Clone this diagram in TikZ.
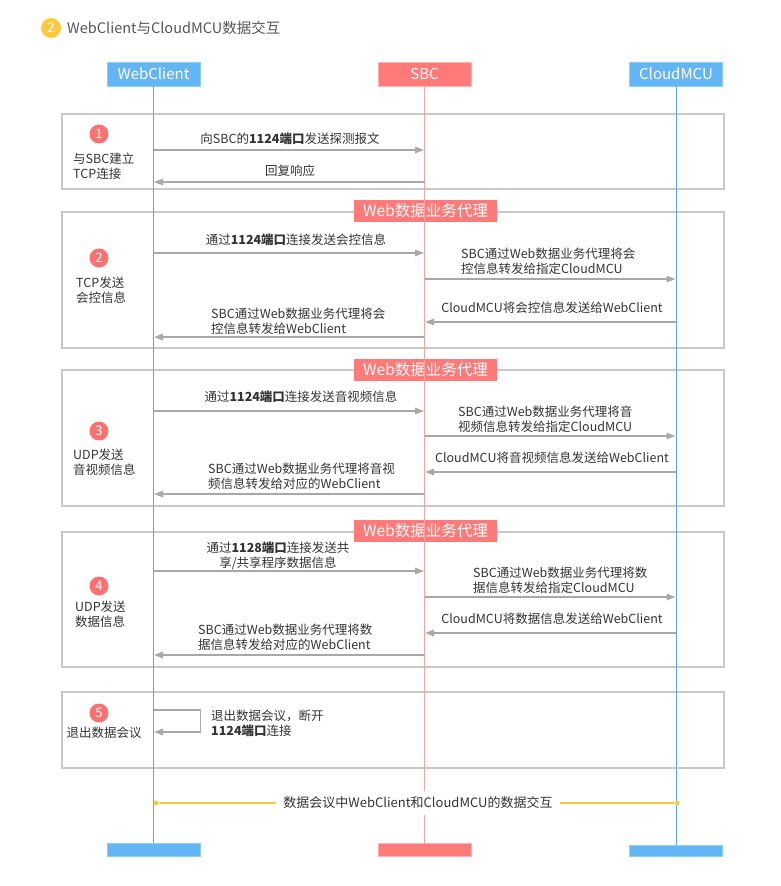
\documentclass[tikz,border=0pt]{standalone}
\usepackage{fontspec}
\setmainfont{Noto Sans CJK SC}
\usetikzlibrary{arrows.meta,positioning}

\definecolor{headblue}{HTML}{64B5F6}
\definecolor{headblueline}{HTML}{8AD2E6}
\definecolor{headred}{HTML}{FF7A78}
\definecolor{headredline}{HTML}{FFB4B2}
\definecolor{lifeblue}{HTML}{5AA9EE}
\definecolor{lifered}{HTML}{F5A3A3}
\definecolor{framegray}{HTML}{C9C9C9}
\definecolor{arrowgray}{HTML}{A8A8A8}
\definecolor{txtgray}{HTML}{333333}
\definecolor{titlegray}{HTML}{555555}
\definecolor{numred}{HTML}{FF7070}
\definecolor{yellowline}{HTML}{FFC83D}

\begin{document}
\begin{tikzpicture}[x=1pt, y=-1pt, >={Triangle[length=9pt,width=6.5pt]},
                    shorten >=0.5pt, text=txtgray,
                    font=\fontsize{12.5}{15}\selectfont]
  \tikzstyle{head}=[minimum width=93pt, minimum height=24pt, inner sep=0pt,
                    text=white, font=\fontsize{15}{18}\selectfont, line width=0.8pt]
  \tikzstyle{headblue}=[head, fill=headblue, draw=headblueline]
  \tikzstyle{headred}=[head, fill=headred, draw=headredline]
  \tikzstyle{foot}=[minimum width=93pt, minimum height=13pt, inner sep=0pt, line width=0.8pt]
  \tikzstyle{frame}=[draw=framegray, line width=1.6pt, minimum width=662pt, inner sep=0pt]
  \tikzstyle{tag}=[fill=headred, text=white, minimum width=143pt, minimum height=22pt,
                   inner sep=0pt, font=\fontsize{15.5}{18}\selectfont]
  \tikzstyle{num}=[circle, fill=numred, text=white, minimum size=19pt, inner sep=0pt,
                   font=\fontsize{13}{13}\selectfont]
  \tikzstyle{msg}=[->, arrowgray, line width=1.3pt]
  \tikzstyle{lbl}=[inner sep=0pt]
  \tikzstyle{lbll}=[inner sep=0pt, anchor=west, align=left]

  \useasboundingbox (0,0) rectangle (780,886);

  % title
  \node[circle, fill=yellowline, text=white, minimum size=20pt, inner sep=0pt,
        font=\fontsize{13}{13}\selectfont]              (tnum)  at (51,28)   {2};
  \node[anchor=west, inner sep=0pt, text=titlegray,
        font=\fontsize{14.5}{17}\selectfont]            (title) at (67,28)   {WebClient与CloudMCU数据交互};

  % participants
  \node[headblue]   (wc)   at (153.5,74)  {WebClient};
  \node[headred]    (sb)   at (424.5,74.5){SBC};
  \node[headblue]   (cm)   at (676,74)    {CloudMCU};
  \node[foot, fill=headblue, draw=headblueline] (wcb) at (153.5,850) {};
  \node[foot, fill=headred, draw=headredline]   (sbb) at (424.5,850) {};
  \node[foot, fill=headblue, draw=headblueline, minimum height=11pt] (cmb) at (676,851) {};

  % frames
  \node[frame, minimum height=75pt]   (f1) at (393,151.5) {};
  \node[frame, minimum height=136pt]  (f2) at (393,280)   {};
  \node[frame, minimum height=136pt]  (f3) at (393,438)   {};
  \node[frame, minimum height=135pt]  (f4) at (393,599.5) {};
  \node[frame, minimum height=76pt]   (f5) at (393,730)   {};
  \node[tag] (t2) at (425.5,211) {Web数据业务代理};
  \node[tag] (t3) at (425.5,370) {Web数据业务代理};
  \node[tag] (t4) at (425.5,531) {Web数据业务代理};

  % lifelines
  \draw[lifeblue, line width=1pt] (wc) -- (wcb);
  \draw[lifered, line width=1pt]  (sb) -- (sbb);
  \draw[lifeblue, line width=1pt] (cm) -- (cmb);

  % rows
  \coordinate (r11) at (0,150);  \coordinate (r12) at (0,182);
  \coordinate (r21) at (0,253);  \coordinate (r22) at (0,279);
  \coordinate (r23) at (0,322);  \coordinate (r24) at (0,337);
  \coordinate (r31) at (0,411);  \coordinate (r32) at (0,436);
  \coordinate (r33) at (0,472);  \coordinate (r34) at (0,494);
  \coordinate (r41) at (0,571);  \coordinate (r42) at (0,597);
  \coordinate (r43) at (0,633);  \coordinate (r44) at (0,655);
  \coordinate (r51) at (0,710);  \coordinate (r52) at (0,732);

  % 1
  \node[num]  (n1) at (99,134) {1};
  \node[lbll] (s1) at (73,166) {与SBC建立\\TCP连接};
  \draw[msg] (wc |- r11) -- (sb |- r11);
  \draw[msg] (sb |- r12) -- (wc |- r12);
  \node[lbl] (l11) at (290,139) {向SBC的\textbf{1124端口}发送探测报文};
  \node[lbl] (l12) at (290,171) {回复响应};

  % 2
  \node[num]  (n2) at (99,258) {2};
  \node[lbll] (s2) at (76,290) {TCP发送\\会控信息};
  \draw[msg] (wc |- r21) -- (sb |- r21);
  \draw[msg] (sb |- r22) -- (cm |- r22);
  \draw[msg] (cm |- r23) -- (sb |- r23);
  \draw[msg] (sb |- r24) -- (wc |- r24);
  \node[lbl]  (l21) at (296,240)   {通过\textbf{1124端口}连接发送会控信息};
  \node[lbll] (l22) at (461,261.5) {SBC通过Web数据业务代理将会\\控信息转发给指定CloudMCU};
  \node[lbl]  (l23) at (552,308)   {CloudMCU将会控信息发送给WebClient};
  \node[lbll] (l24) at (211,321.5) {SBC通过Web数据业务代理将会\\控信息转发给WebClient};

  % 3
  \node[num]  (n3) at (99,431) {3};
  \node[lbll] (s3) at (73,462) {UDP发送\\音视频信息};
  \draw[msg] (wc |- r31) -- (sb |- r31);
  \draw[msg] (sb |- r32) -- (cm |- r32);
  \draw[msg] (cm |- r33) -- (sb |- r33);
  \draw[msg] (sb |- r34) -- (wc |- r34);
  \node[lbl]  (l31) at (301,397)   {通过\textbf{1124端口}连接发送音视频信息};
  \node[lbll] (l32) at (458,419.5) {SBC通过Web数据业务代理将音\\视频信息转发给指定CloudMCU};
  \node[lbl]  (l33) at (552,458)   {CloudMCU将音视频信息发送给WebClient};
  \node[lbll] (l34) at (208,476.5) {SBC通过Web数据业务代理将音视\\频信息转发给对应的WebClient};

  % 4
  \node[num]  (n4) at (99,586) {4};
  \node[lbll] (s4) at (75,614.5) {UDP发送\\数据信息};
  \draw[msg] (wc |- r41) -- (sb |- r41);
  \draw[msg] (sb |- r42) -- (cm |- r42);
  \draw[msg] (cm |- r43) -- (sb |- r43);
  \draw[msg] (sb |- r44) -- (wc |- r44);
  \node[lbl, align=center] (l41) at (278,555.5) {通过\textbf{1128端口}连接发送共\\享/共享程序数据信息};
  \node[lbll] (l42) at (473,580.5) {SBC通过Web数据业务代理将数\\据信息转发给指定CloudMCU};
  \node[lbl]  (l43) at (552,619)   {CloudMCU将数据信息发送给WebClient};
  \node[lbll] (l44) at (198,637.5) {SBC通过Web数据业务代理将数\\据信息转发给对应的WebClient};

  % 5
  \node[num]  (n5) at (99,713) {5};
  \node[lbl]  (s5) at (104,733) {退出数据会议};
  \draw[msg] (wc |- r51) -- ++(47,0) |- (wc |- r52);
  \node[lbll] (l51) at (211,723) {退出数据会议，断开\\\textbf{1124端口}连接};

  % summary
  \node[circle, fill=yellowline, inner sep=0pt, minimum size=5pt] (d1) at (156,803) {};
  \node[circle, fill=yellowline, inner sep=0pt, minimum size=5pt] (d2) at (677,803) {};
  \draw[yellowline, line width=1.3pt] (d1) -- (d2);
  \node[fill=white, inner xsep=7pt, inner ysep=6pt, font=\fontsize{13}{15}\selectfont]
        (sum) at (418,803) {数据会议中WebClient和CloudMCU的数据交互};

\end{tikzpicture}
\end{document}
